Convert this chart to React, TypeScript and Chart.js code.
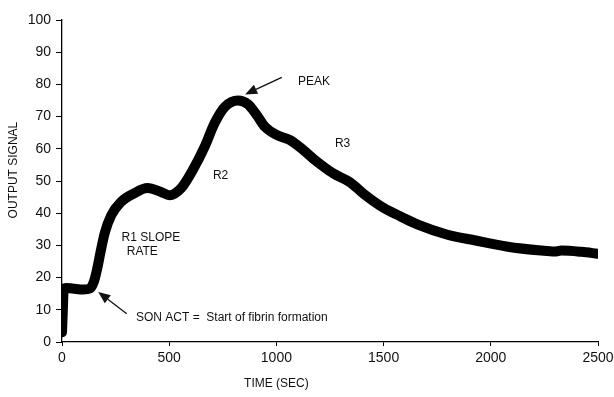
import { useEffect, useRef } from 'react';
import { Chart, registerables } from 'chart.js';

Chart.register(...registerables);

// Data
const timeSec = [0, 4, 8, 20, 50, 100, 130, 150, 165, 180, 200, 230, 275, 337, 398, 462, 501, 556, 610, 665, 712, 759, 821, 868, 908, 947, 1001, 1064, 1126, 1189, 1266, 1344, 1407, 1501, 1579, 1657, 1798, 1923, 2079, 2235, 2297, 2329, 2423, 2500];
const outputSignal = [3, 10, 16.5, 16.8, 16.6, 16.3, 16.6, 19, 23, 28, 34, 39.4, 43.5, 46.2, 47.8, 46.6, 45.6, 47.8, 53.4, 60.6, 68, 73, 75, 73.8, 70.5, 66.8, 64.3, 62.7, 59.6, 56, 52.3, 49.6, 46, 41.6, 39, 36.5, 33.3, 31.6, 29.6, 28.4, 28.1, 28.4, 28, 27.4];

const xTickValues = [0, 500, 1000, 1500, 2000, 2500];
const yTickValues = [0, 10, 20, 30, 40, 50, 60, 70, 80, 90, 100];

const xTitle = 'TIME (SEC)';
const yTitle = 'OUTPUT SIGNAL';

// Text annotations (data coordinates: left edge x, vertical centre y)
const noteTexts = ['PEAK', 'R3', 'R2', 'R1 SLOPE', 'RATE', 'SON ACT =  Start of fibrin formation'];
const noteX = [1101, 1273, 704, 278, 302, 345];
const noteY = [80.8, 61.7, 51.5, 32.3, 28, 7.7];

// Arrows (data coordinates: tail -> tip)
const arrowTailX = [1025, 302];
const arrowTailY = [82.2, 8.8];
const arrowTipX = [854, 169];
const arrowTipY = [76.9, 15.5];

const FONT = '"Liberation Sans", Arial, sans-serif';

const annotationPlugin = {
  id: 'annotations',
  afterDatasetsDraw(chart: any) {
    const { ctx, scales } = chart;
    const xs = scales.x;
    const ys = scales.y;
    ctx.save();
    ctx.fillStyle = '#111';
    ctx.strokeStyle = '#111';
    ctx.font = `12px ${FONT}`;
    ctx.textBaseline = 'middle';
    ctx.textAlign = 'left';
    noteTexts.forEach((t, i) => {
      ctx.fillText(t, xs.getPixelForValue(noteX[i]), ys.getPixelForValue(noteY[i]));
    });
    arrowTailX.forEach((_, i) => {
      const x1 = xs.getPixelForValue(arrowTailX[i]);
      const y1 = ys.getPixelForValue(arrowTailY[i]);
      const x2 = xs.getPixelForValue(arrowTipX[i]);
      const y2 = ys.getPixelForValue(arrowTipY[i]);
      const ang = Math.atan2(y2 - y1, x2 - x1);
      const headLen = 12;
      const headW = 5;
      const bx = x2 - headLen * Math.cos(ang);
      const by = y2 - headLen * Math.sin(ang);
      ctx.lineWidth = 1.3;
      ctx.beginPath();
      ctx.moveTo(x1, y1);
      ctx.lineTo(bx, by);
      ctx.stroke();
      ctx.beginPath();
      ctx.moveTo(x2, y2);
      ctx.lineTo(bx + headW * Math.sin(ang), by - headW * Math.cos(ang));
      ctx.lineTo(bx - headW * Math.sin(ang), by + headW * Math.cos(ang));
      ctx.closePath();
      ctx.fill();
    });
    // axis titles
    ctx.font = `12px ${FONT}`;
    ctx.textAlign = 'center';
    ctx.fillText(xTitle, xs.getPixelForValue(1000), xs.bottom - 13);
    ctx.translate(14, ys.getPixelForValue(53.4));
    ctx.rotate(-Math.PI / 2);
    ctx.fillText(yTitle, 0, 0);
    ctx.restore();
  },
};

export default function App() {
  const canvasRef = useRef<HTMLCanvasElement | null>(null);

  useEffect(() => {
    if (!canvasRef.current) return;
    const chart = new Chart(canvasRef.current, {
      type: 'line',
      data: {
        datasets: [
          {
            label: 'Output signal',
            data: timeSec.map((t, i) => ({ x: t, y: outputSignal[i] })),
            borderColor: '#000',
            borderWidth: 10,
            borderCapStyle: 'round',
            borderJoinStyle: 'round',
            pointRadius: 0,
            tension: 0.4,
            cubicInterpolationMode: 'monotone',
            fill: false,
          },
        ],
      },
      options: {
        animation: false,
        responsive: true,
        maintainAspectRatio: false,
        layout: { padding: { top: 20, right: 16, left: 0, bottom: 0 } },
        plugins: {
          legend: { display: false },
          tooltip: { enabled: false },
          title: { display: false },
        },
        scales: {
          x: {
            type: 'linear',
            min: 0,
            max: 2500,
            afterBuildTicks: (scale: any) => {
              scale.ticks = xTickValues.map((v) => ({ value: v }));
            },
            afterFit: (scale: any) => {
              scale.height = 55;
              scale.paddingRight = 0;
              scale.paddingLeft = 0;
            },
            ticks: {
              color: '#111',
              font: { family: FONT, size: 14 },
              padding: 4,
              maxRotation: 0,
              callback: (v: any) => String(v),
            },
            grid: {
              display: true,
              drawOnChartArea: false,
              drawTicks: true,
              tickLength: 4,
              color: '#000',
            },
            border: { display: true, color: '#000', width: 1.3 },
          },
          y: {
            type: 'linear',
            min: 0,
            max: 100,
            afterBuildTicks: (scale: any) => {
              scale.ticks = yTickValues.map((v) => ({ value: v }));
            },
            afterFit: (scale: any) => {
              scale.width = 62;
              scale.paddingTop = 0;
              scale.paddingBottom = 0;
            },
            ticks: {
              color: '#111',
              font: { family: FONT, size: 14 },
              padding: 5,
              callback: (v: any) => String(v),
            },
            grid: {
              display: true,
              drawOnChartArea: false,
              drawTicks: true,
              tickLength: 6,
              color: '#000',
            },
            border: { display: true, color: '#000', width: 1.3 },
          },
        },
      },
      plugins: [annotationPlugin],
    } as any);
    return () => chart.destroy();
  }, []);

  return (
    <div style={{ position: 'fixed', left: 0, top: 0, width: 614, height: 397, background: '#fff' }}>
      <canvas ref={canvasRef} />
    </div>
  );
}
